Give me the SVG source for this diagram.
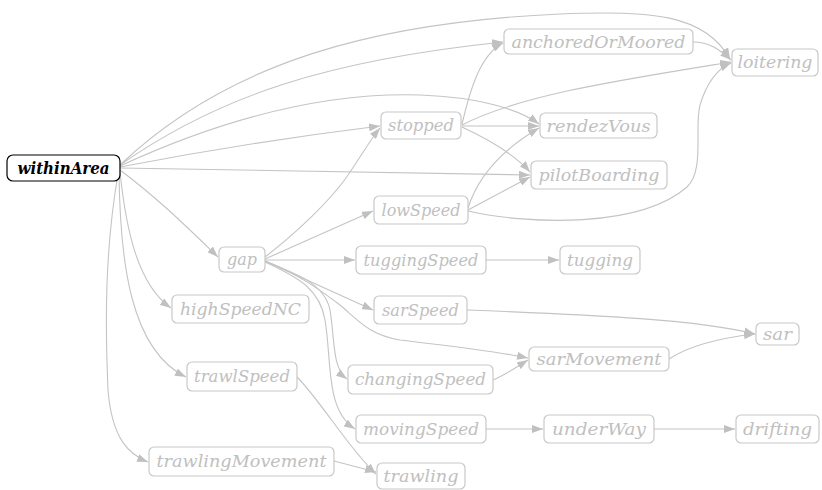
<svg xmlns="http://www.w3.org/2000/svg" width="822" height="490" viewBox="0 0 822 490">
<defs>
<marker id="ah" markerUnits="userSpaceOnUse" markerWidth="11" markerHeight="8" viewBox="0 0 11 8" refX="11" refY="4" orient="auto">
<path d="M0,0 L11,4 L0,8 z" fill="#c0c0c0"/>
</marker>
</defs>
<style>
.n rect{fill:#fff;stroke:#c8c8c8;stroke-width:1.2}
.n text{font-family:"DejaVu Serif","Liberation Serif",serif;font-style:italic;font-size:17px;fill:#c0c0c0;text-anchor:middle}
#withinArea rect{stroke:#000}
#withinArea text{fill:#000;font-weight:bold}
#edges path{fill:none;stroke:#c4c4c4;stroke-width:1.1;marker-end:url(#ah)}
</style>
<rect width="822" height="490" fill="#fff"/>
<g id="edges">
<path d="M120,165 C230,60 380,22 560,14 C650,10 705,14 730,59"/>
<path d="M120,165 C220,95 330,60 503,42"/>
<path d="M120,166 C220,120 320,92 420,95 C480,97 520,110 539,124"/>
<path d="M120,167 Q250,142 380,126"/>
<path d="M120,168 L530,175"/>
<path d="M120,170 C160,200 190,230 218,257"/>
<path d="M120,172 C126,230 138,285 171,308"/>
<path d="M119,173 C120,260 130,350 186,377"/>
<path d="M118,174 C105,250 105,320 108,390 C112,440 130,455 148,462"/>
<path d="M265,257 C300,230 330,200 346,178 C360,158 370,140 380,128"/>
<path d="M265,259 L373,211"/>
<path d="M265,260 L355,260"/>
<path d="M265,261 L373,310"/>
<path d="M265,261 C300,275 320,290 340,305 C360,322 370,335 400,340 C440,345 490,350 528,358"/>
<path d="M265,261 C300,275 325,285 330,310 C335,340 332,368 347,379"/>
<path d="M265,262 C300,278 320,290 325,320 C332,360 325,410 355,429"/>
<path d="M462,124 C470,90 480,55 503,43"/>
<path d="M462,125 C520,95 620,80 731,62"/>
<path d="M462,126 L539,126"/>
<path d="M462,127 C490,140 515,155 530,172"/>
<path d="M468,208 C480,170 510,145 539,128"/>
<path d="M468,210 L530,177"/>
<path d="M468,211 C530,225 640,228 687,187 C705,170 694,128 700,105 C706,85 715,70 731,63"/>
<path d="M486,260 L559,260"/>
<path d="M467,310 C600,315 700,320 755,334"/>
<path d="M669,359 C690,345 720,338 755,334"/>
<path d="M493,380 C505,375 515,368 528,360"/>
<path d="M486,429 L543,429"/>
<path d="M654,429 L735,429"/>
<path d="M297,377 C320,400 350,450 376,474"/>
<path d="M334,461 L376,472"/>
<path d="M693,42 C710,42 720,50 731,60"/>
</g>
<g id="withinArea" class="n"><rect x="7" y="155" width="113" height="26" rx="6"/><text x="63.5" y="174" textLength="92" lengthAdjust="spacingAndGlyphs">withinArea</text></g>
<g id="anchoredOrMoored" class="n"><rect x="504" y="29" width="189" height="25" rx="5"/><text x="598.5" y="47.5" textLength="174" lengthAdjust="spacingAndGlyphs">anchoredOrMoored</text></g>
<g id="loitering" class="n"><rect x="732" y="49" width="86" height="27" rx="5"/><text x="775" y="68" textLength="75" lengthAdjust="spacingAndGlyphs">loitering</text></g>
<g id="stopped" class="n"><rect x="381" y="112" width="80" height="27" rx="5"/><text x="421" y="131" textLength="66" lengthAdjust="spacingAndGlyphs">stopped</text></g>
<g id="rendezVous" class="n"><rect x="540" y="113" width="117" height="25" rx="5"/><text x="598.5" y="131.5" textLength="104" lengthAdjust="spacingAndGlyphs">rendezVous</text></g>
<g id="pilotBoarding" class="n"><rect x="531" y="161" width="136" height="28" rx="5"/><text x="599" y="180.5" textLength="121" lengthAdjust="spacingAndGlyphs">pilotBoarding</text></g>
<g id="lowSpeed" class="n"><rect x="374" y="196" width="94" height="28" rx="5"/><text x="421" y="215.5" textLength="79" lengthAdjust="spacingAndGlyphs">lowSpeed</text></g>
<g id="gap" class="n"><rect x="219" y="247" width="46" height="25" rx="5"/><text x="242" y="264.5" textLength="30" lengthAdjust="spacingAndGlyphs">gap</text></g>
<g id="tuggingSpeed" class="n"><rect x="356" y="246" width="130" height="28" rx="5"/><text x="421" y="265.5" textLength="115" lengthAdjust="spacingAndGlyphs">tuggingSpeed</text></g>
<g id="tugging" class="n"><rect x="560" y="246" width="80" height="28" rx="5"/><text x="600" y="265.5" textLength="66" lengthAdjust="spacingAndGlyphs">tugging</text></g>
<g id="highSpeedNC" class="n"><rect x="172" y="295" width="137" height="28" rx="5"/><text x="240.5" y="314.5" textLength="121" lengthAdjust="spacingAndGlyphs">highSpeedNC</text></g>
<g id="sarSpeed" class="n"><rect x="374" y="296" width="93" height="28" rx="5"/><text x="420.5" y="315.5" textLength="77" lengthAdjust="spacingAndGlyphs">sarSpeed</text></g>
<g id="sar" class="n"><rect x="756" y="323" width="43" height="22" rx="5"/><text x="777.5" y="339.5" textLength="29" lengthAdjust="spacingAndGlyphs">sar</text></g>
<g id="sarMovement" class="n"><rect x="529" y="347" width="140" height="24" rx="5"/><text x="599" y="365" textLength="125" lengthAdjust="spacingAndGlyphs">sarMovement</text></g>
<g id="changingSpeed" class="n"><rect x="348" y="365" width="145" height="29" rx="5"/><text x="420.5" y="385" textLength="131" lengthAdjust="spacingAndGlyphs">changingSpeed</text></g>
<g id="trawlSpeed" class="n"><rect x="187" y="362" width="110" height="29" rx="5"/><text x="242" y="382" textLength="96" lengthAdjust="spacingAndGlyphs">trawlSpeed</text></g>
<g id="movingSpeed" class="n"><rect x="356" y="415" width="130" height="28" rx="5"/><text x="421" y="434.5" textLength="116" lengthAdjust="spacingAndGlyphs">movingSpeed</text></g>
<g id="underWay" class="n"><rect x="544" y="415" width="110" height="28" rx="5"/><text x="599" y="434.5" textLength="94" lengthAdjust="spacingAndGlyphs">underWay</text></g>
<g id="drifting" class="n"><rect x="736" y="415" width="83" height="28" rx="5"/><text x="777.5" y="434.5" textLength="69" lengthAdjust="spacingAndGlyphs">drifting</text></g>
<g id="trawlingMovement" class="n"><rect x="149" y="447" width="185" height="29" rx="5"/><text x="241.5" y="467" textLength="170" lengthAdjust="spacingAndGlyphs">trawlingMovement</text></g>
<g id="trawling" class="n"><rect x="377" y="463" width="88" height="26" rx="5"/><text x="421" y="481.5" textLength="75" lengthAdjust="spacingAndGlyphs">trawling</text></g>
</svg>
